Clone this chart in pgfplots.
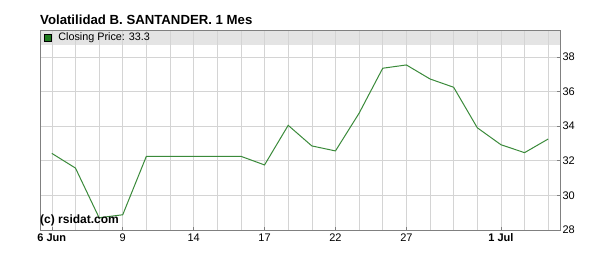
\documentclass[border=0pt]{standalone}
\usepackage{pgfplots}
\pgfplotsset{compat=1.18}
\usetikzlibrary{calc}
\usepackage{fontspec}
\setmainfont{Liberation Sans}
\definecolor{gridc}{HTML}{D4D4D4}
\definecolor{axisc}{HTML}{808080}
\definecolor{bandc}{HTML}{E4E4E4}
\definecolor{linec}{HTML}{3A8A3A}
\definecolor{legc}{HTML}{1E7B1E}
\begin{document}
\begin{tikzpicture}
\useasboundingbox (0bp,0bp) rectangle (600bp,266bp);
\node[anchor=base west, inner sep=0, font=\fontsize{13.2bp}{15bp}\selectfont\bfseries] at (40bp,241.5bp) {Volatilidad B. SANTANDER. 1 Mes};
\begin{axis}[
  at={(40bp,36bp)}, anchor=south west,
  scale only axis, width=520bp, height=200bp,
  xmin=-0.5, xmax=21.5, ymin=28, ymax=39.56,
  axis background/.style={path picture={\fill[bandc] ($(path picture bounding box.north west)+(0,-15bp)$) rectangle (path picture bounding box.north east);}},
  axis line style={axisc, line width=0.8bp},
  xtick={0,3,6,9,12,15,19},
  xticklabels={\textbf{6 Jun},9,14,17,22,27,\textbf{1 Jul}},
  minor xtick={0,...,21},
  ytick={28,30,...,38},
  yticklabel pos=right,
  ytick pos=right, xtick pos=bottom,
  tick align=inside,
  major tick length=3bp,
  tick style={axisc, line width=0.6bp},
  grid=both,
  major grid style={gridc, line width=0.6bp},
  minor grid style={gridc, line width=0.6bp},
  minor tick length=0pt,
  ticklabel style={font=\fontsize{11bp}{13bp}\selectfont},
  /pgf/number format/assume math mode=true,
  yticklabel style={xshift=-1bp},
  xticklabel style={yshift=-0.5bp},
  legend style={at={(axis description cs:0.008,0.9625)}, anchor=west, draw=none, fill=none,
    font=\fontsize{10.8bp}{12bp}\selectfont, inner sep=0pt,
    /tikz/every odd column/.append style={column sep=4.5bp},
    legend cell align=left},
  legend image code/.code={\draw[fill=legc,draw=black,line width=0.5bp] (0bp,-3.5bp) rectangle (7bp,3.5bp);},
]
\addplot[linec, line width=1bp] coordinates {
(0,32.43) (1,31.58) (2,28.71) (3,28.88) (4,32.26) (5,32.26) (6,32.26) (7,32.26) (8,32.26)
(9,31.76) (10,34.05) (11,32.86) (12,32.57) (13,34.75) (14,37.35) (15,37.54) (16,36.73)
(17,36.25) (18,33.91) (19,32.93) (20,32.47) (21,33.26)};
\addlegendentry{Closing Price: 33.3}
\node[anchor=south west, inner sep=0, font=\fontsize{12bp}{14bp}\selectfont\bfseries] at (axis description cs:0,0.02) {(c) rsidat.com};
\end{axis}
\end{tikzpicture}
\end{document}
